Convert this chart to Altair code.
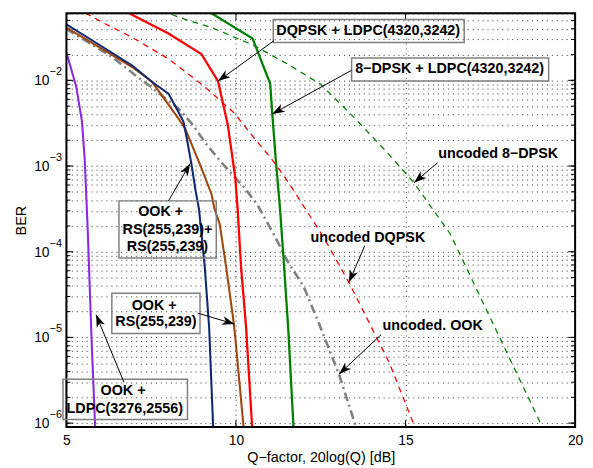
import math
import altair as alt
import pandas as pd

# ---------------- layout constants (styling only)
W, H = 514, 418
XMIN, XMAX = 5, 20
YMIN, YMAX = 9.0e-7, 6.05e-2
FONT = "Liberation Sans"

# ---------------- data: Q-factor [dB] and BER for each curve
q_ook_ldpc = [5.00, 5.29, 5.46, 5.54, 5.63, 5.74, 5.85]
b_ook_ldpc = [2.12e-2, 8.4e-3, 3.3e-3, 1.2e-3, 1.75e-4, 1.0e-5, 8.5e-7]

q_ook_rsrs = [5.00, 6.94, 7.53, 8.01, 8.30, 8.45, 8.55, 8.69, 8.81, 8.91, 9.08, 9.21, 9.33]
b_ook_rsrs = [4.51e-2, 1.49e-2, 9.55e-3, 7.0e-3, 4.31e-3, 3.30e-3, 2.11e-3, 1.04e-3, 5.12e-4, 3.14e-4, 6.64e-5, 1.29e-5, 8.5e-7]

q_ook_rs = [5.00, 6.94, 7.53, 8.01, 8.30, 8.50, 8.98, 9.28, 9.37, 9.52, 9.71, 9.91, 9.97, 10.23]
b_ook_rs = [4.13e-2, 1.43e-2, 9.55e-3, 5.2e-3, 3.60e-3, 2.75e-3, 9.5e-4, 4.69e-4, 3.14e-4, 2.11e-4, 6.64e-5, 1.75e-5, 1.1e-5, 8.5e-7]

q_unc_ook = [5.00, 6.36, 7.04, 7.43, 8.30, 8.69, 9.18, 9.67, 10.25, 10.64, 11.12, 11.51, 12.00, 12.48, 13.04, 13.52]
b_unc_ook = [3.98e-2, 1.86e-2, 1.14e-2, 8.75e-3, 4.70e-3, 3.15e-3, 1.69e-3, 9.95e-4, 5.58e-4, 3.5e-4, 1.58e-4, 7.9e-5, 3.9e-5, 1.35e-5, 3.7e-6, 9.5e-7]

q_unc_dqpsk = [5.00, 5.58, 6.17, 6.94, 8.01, 9.03, 9.96, 10.54, 11.03, 11.42, 11.71, 12.58, 13.33, 14.52, 15.30]
b_unc_dqpsk = [8.1e-2, 6.05e-2, 4.51e-2, 3.17e-2, 1.78e-2, 8.75e-3, 4.11e-3, 2.11e-3, 1.24e-3, 7.6e-4, 5.12e-4, 1.48e-4, 4.39e-5, 5.07e-6, 8.5e-7]

q_unc_8dpsk = [7.50, 8.01, 8.50, 9.28, 10.54, 11.51, 12.48, 13.46, 14.43, 15.25, 16.32, 17.34, 18.99]
b_unc_8dpsk = [7.1e-2, 6.05e-2, 5.15e-2, 4.13e-2, 2.54e-2, 1.56e-2, 9.1e-3, 3.77e-3, 1.48e-3, 6.38e-4, 1.61e-4, 2.29e-5, 9.8e-7]

q_dqpsk_ldpc = [5.50, 6.85, 8.01, 8.98, 9.47, 9.76, 9.98, 10.05, 10.15, 10.30, 10.48]
b_dqpsk_ldpc = [0.114, 6.05e-2, 3.52e-2, 2.03e-2, 9.8e-3, 3.02e-3, 7.28e-4, 3.14e-4, 6.64e-5, 1.29e-5, 8.5e-7]

q_8dpsk_ldpc = [8.50, 9.28, 10.49, 11.01, 11.07, 11.17, 11.30, 11.42, 11.54, 11.70]
b_8dpsk_ldpc = [9.3e-2, 6.05e-2, 3.08e-2, 9.1e-3, 4.11e-3, 1.24e-3, 3.14e-4, 6.64e-5, 1.29e-5, 8.5e-7]

# ---------------- tick labels
x_ticks = [5, 10, 15, 20]
y_decades = [1e-2, 1e-3, 1e-4, 1e-5, 1e-6]
y_exps = ["\u22122", "\u22123", "\u22124", "\u22125", "\u22126"]
y_minor = [m * 10.0 ** e for e in range(-7, -1) for m in range(1, 10) if YMIN <= m * 10.0 ** e <= YMAX]

# ---------------- annotations (text, position in data units)
box_x1 = [11.10, 13.41, 6.55, 6.34, 4.90]
box_x2 = [16.73, 19.22, 9.42, 8.94, 8.57]
box_y1 = [5.12e-2, 1.82e-2, 3.92e-4, 3.27e-5, 3.25e-6]
box_y2 = [2.77e-2, 9.8e-3, 8.43e-5, 1.11e-5, 1.10e-6]

label_text = ["DQPSK + LDPC(4320,3242)", "8\u2212DPSK + LDPC(4320,3242)",
              "uncoded 8\u2212DPSK", "uncoded DQPSK", "uncoded. OOK",
              "OOK +", "RS(255,239)+", "RS(255,239)",
              "OOK +", "RS(255,239)",
              "OOK +", "LDPC(3276,2556)"]
label_x = [13.90, 16.30, 17.73, 13.89, 15.80, 7.78, 7.98, 7.98, 7.59, 7.64, 6.67, 6.72]
label_y = [3.77e-2, 1.34e-2, 1.37e-3, 1.46e-4, 1.37e-5, 2.87e-4, 1.80e-4, 1.13e-4, 2.33e-5, 1.50e-5, 2.34e-6, 1.46e-6]

arrow_x1 = [11.12, 13.41, 15.94, 13.80, 14.28, 8.01, 8.87, 6.70]
arrow_y1 = [2.90e-2, 1.31e-2, 1.09e-3, 1.18e-4, 1.08e-5, 3.92e-4, 1.92e-5, 2.98e-6]
arrow_x2 = [9.47, 11.07, 15.25, 13.33, 13.04, 8.65, 9.96, 5.875]
arrow_y2 = [9.8e-3, 4.05e-3, 6.38e-4, 4.39e-5, 3.72e-6, 1.07e-3, 1.43e-5, 1.84e-5]

# ---------------- scales and axes
xs = alt.Scale(domain=[XMIN, XMAX], nice=False, zero=False)
ys = alt.Scale(type="log", domain=[YMIN, YMAX], nice=False)


def px(q):
    return (q - XMIN) / (XMAX - XMIN) * W


def py(b):
    return (math.log10(YMAX) - math.log10(b)) / (math.log10(YMAX) - math.log10(YMIN)) * H


GRID = dict(grid=True, gridDash=[1, 4], gridColor="#333", gridOpacity=1, gridWidth=1)
x_axis = alt.Axis(values=x_ticks, title="Q\u2212factor, 20log(Q) [dB]", **GRID,
                  ticks=False, tickSize=0, domain=False, labelFont=FONT, labelFontSize=14,
                  labelColor="#000", labelPadding=7, labelFlush=False,
                  titleFont=FONT, titleFontSize=14.5, titleFontWeight="normal",
                  titleColor="#000", titlePadding=3)
y_axis = alt.Axis(values=y_minor, title="BER", **GRID, ticks=False, tickSize=0, labels=False,
                  domain=False, titleFont=FONT, titleFontSize=14.5, titleFontWeight="normal",
                  titleColor="#000", titlePadding=38)


def X(field):
    return alt.X(field, scale=xs, axis=x_axis)


def Y(field):
    return alt.Y(field, scale=ys, axis=y_axis)


# inward tick marks
minor_df = pd.DataFrame({"ber": y_minor})
major_df = pd.DataFrame({"ber": y_decades})
xt_df = pd.DataFrame({"q": [10, 15]})
tick_layers = [
    alt.Chart(minor_df).mark_rule(color="#000", strokeWidth=1).encode(
        y=Y("ber:Q"), x=alt.value(0), x2=alt.value(4)),
    alt.Chart(minor_df).mark_rule(color="#000", strokeWidth=1).encode(
        y=Y("ber:Q"), x=alt.value(W - 4), x2=alt.value(W)),
    alt.Chart(major_df).mark_rule(color="#000", strokeWidth=1).encode(
        y=Y("ber:Q"), x=alt.value(0), x2=alt.value(7)),
    alt.Chart(major_df).mark_rule(color="#000", strokeWidth=1).encode(
        y=Y("ber:Q"), x=alt.value(W - 7), x2=alt.value(W)),
    alt.Chart(xt_df).mark_rule(color="#000", strokeWidth=1).encode(
        x=X("q:Q"), y=alt.value(H - 7), y2=alt.value(H)),
    alt.Chart(xt_df).mark_rule(color="#000", strokeWidth=1).encode(
        x=X("q:Q"), y=alt.value(0), y2=alt.value(7)),
]

# curves: (q, ber, colour, dash, width)
curves = [
    (q_unc_8dpsk, b_unc_8dpsk, "#008000", [6, 5], 1.3),
    (q_unc_dqpsk, b_unc_dqpsk, "#ff0000", [6, 5], 1.3),
    (q_unc_ook, b_unc_ook, "#808080", [9, 4, 2, 4], 2.6),
    (q_ook_rs, b_ook_rs, "#a0460f", None, 2.1),
    (q_ook_rsrs, b_ook_rsrs, "#102a70", None, 2.1),
    (q_ook_ldpc, b_ook_ldpc, "#8a2be2", None, 2.1),
    (q_dqpsk_ldpc, b_dqpsk_ldpc, "#ff0000", None, 2.3),
    (q_8dpsk_ldpc, b_8dpsk_ldpc, "#008000", None, 2.3),
]
curve_layers = []
for q, b, col, dash, w in curves:
    df = pd.DataFrame({"q": q, "ber": b, "i": list(range(len(q)))})
    kw = dict(color=col, strokeWidth=w, clip=True, strokeJoin="miter")
    if dash:
        kw["strokeDash"] = dash
    curve_layers.append(
        alt.Chart(df).mark_line(**kw).encode(x=X("q:Q"), y=Y("ber:Q"), order="i:Q")
    )

# y tick labels with superscript exponents
ylab_df = pd.DataFrame({"ber": y_decades, "exp": y_exps})
ylab_layers = [
    alt.Chart(ylab_df).mark_text(font=FONT, fontSize=14, align="right", baseline="middle",
                                 color="#000", dy=1).encode(
        y=Y("ber:Q"), x=alt.value(-17), text=alt.value("10")),
    alt.Chart(ylab_df).mark_text(font=FONT, fontSize=11, align="left", baseline="middle",
                                 color="#000", dy=-8).encode(
        y=Y("ber:Q"), x=alt.value(-17), text="exp:N"),
]

# plot frame
frame_layer = alt.Chart(pd.DataFrame({"f": [0]})).mark_rect(
    fillOpacity=0, stroke="#000", strokeWidth=2).encode(
    x=alt.value(0), x2=alt.value(W), y=alt.value(0), y2=alt.value(H))

# annotation boxes
box_df = pd.DataFrame({"x1": box_x1, "x2": box_x2, "y1": box_y1, "y2": box_y2})
box_layer = alt.Chart(box_df).mark_rect(fillOpacity=0, stroke="#808080", strokeWidth=1.5).encode(
    x=X("x1:Q"), x2="x2:Q", y=Y("y1:Q"), y2="y2:Q",
)

# arrows
angles = []
for a, b, c, d in zip(arrow_x1, arrow_y1, arrow_x2, arrow_y2):
    dx = px(c) - px(a)
    dy = py(d) - py(b)
    angles.append(math.degrees(math.atan2(dx, -dy)) % 360)
arrow_df = pd.DataFrame({"x1": arrow_x1, "y1": arrow_y1, "x2": arrow_x2, "y2": arrow_y2,
                         "ang": angles})
arrow_line = alt.Chart(arrow_df).mark_rule(color="#000", strokeWidth=1).encode(
    x=X("x1:Q"), x2="x2:Q", y=Y("y1:Q"), y2="y2:Q",
)
arrow_head = alt.Chart(arrow_df).mark_point(
    shape="M0,0L0.7,2L0,1.45L-0.7,2Z", filled=True, color="#000", opacity=1, size=160,
    strokeWidth=0).encode(
    x=X("x2:Q"), y=Y("y2:Q"),
    angle=alt.Angle("ang:Q", scale=None),
)

# annotation text
lab_df = pd.DataFrame({"x": label_x, "y": label_y, "t": label_text})
lab_layer = alt.Chart(lab_df).mark_text(font=FONT, fontSize=14.5, fontWeight="bold",
                                        align="center", baseline="middle", color="#000").encode(
    x=X("x:Q"), y=Y("y:Q"), text="t:N",
)

chart = alt.layer(
    *tick_layers, *curve_layers, frame_layer, *ylab_layers, box_layer, arrow_line, arrow_head,
    lab_layer,
).properties(
    width=W, height=H,
    autosize=alt.AutoSizeParams(type="none"),
    padding={"left": 59, "top": 3, "right": 10, "bottom": 39},
    background="white",
).configure_view(stroke=None).configure(font=FONT)

chart.save("out.html", embed_options={"renderer": "svg", "actions": False})
